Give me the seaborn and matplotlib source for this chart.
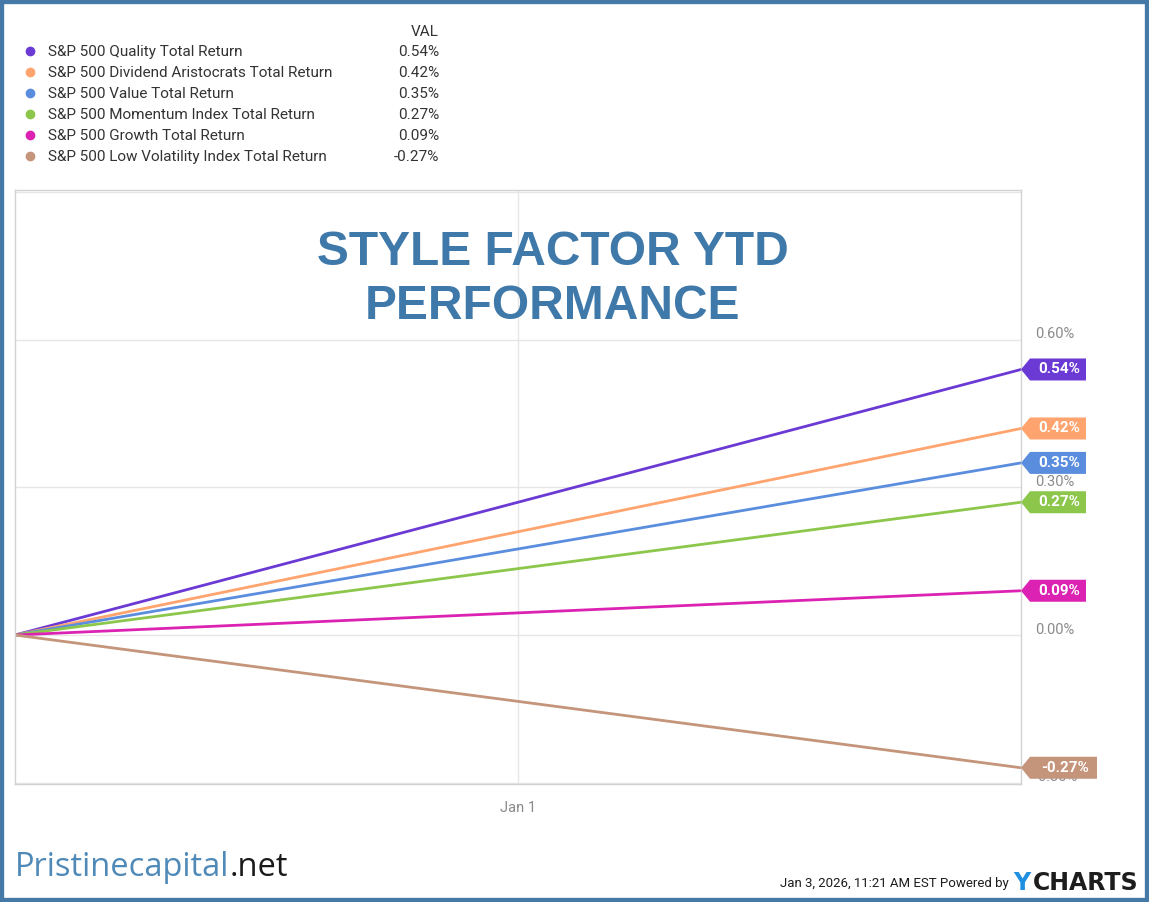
import pandas as pd
import matplotlib
matplotlib.use("Agg")
import matplotlib.pyplot as plt
import matplotlib.dates as mdates
import matplotlib.transforms as mtransforms
from matplotlib.patches import Polygon, Rectangle
from matplotlib.lines import Line2D
import seaborn as sns

# ------------------------------------------------------------
# Data
# ------------------------------------------------------------
series = [
    "S&P 500 Quality Total Return",
    "S&P 500 Dividend Aristocrats Total Return",
    "S&P 500 Value Total Return",
    "S&P 500 Momentum Index Total Return",
    "S&P 500 Growth Total Return",
    "S&P 500 Low Volatility Index Total Return",
]
values = [0.54, 0.42, 0.35, 0.27, 0.09, -0.27]
colors = ["#6B3AD4", "#FFA46E", "#5B8DDE", "#8CC64B", "#DC22B2", "#C4957A"]
dates = ["2025-12-31", "2026-01-02"]
x_tick_dates = ["2026-01-01"]
x_tick_labels = ["Jan 1"]
y_ticks = [-0.30, 0.00, 0.30, 0.60]
y_tick_labels = ["-0.30%", "0.00%", "0.30%", "0.60%"]

rows = []
for name, v in zip(series, values):
    rows.append({"date": dates[0], "series": name, "ret": 0.0})
    rows.append({"date": dates[1], "series": name, "ret": v})
df = pd.DataFrame(rows)
df["date"] = pd.to_datetime(df["date"])

# ------------------------------------------------------------
# Style
# ------------------------------------------------------------
sns.set_theme(style="white")
plt.rcParams["font.family"] = ["Roboto", "DejaVu Sans"]

W, H = 1149, 902
fig = plt.figure(figsize=(W / 100, H / 100), dpi=100)
fig.patch.set_facecolor("white")


def fx(x):
    return x / W


def fy(y):
    return 1 - y / H


ax = fig.add_axes([fx(15), 118 / H, 1006 / W, 594 / H])
sns.lineplot(data=df, x="date", y="ret", hue="series", hue_order=series,
             palette=colors, linewidth=2, legend=False, ax=ax)

ax.set_xlim(pd.Timestamp(dates[0]), pd.Timestamp(dates[1]))
ax.set_ylim(-0.303, 0.905)
ax.set_xticks([pd.Timestamp(d) for d in x_tick_dates])
ax.set_xticklabels(x_tick_labels)
ax.set_yticks(y_ticks + [0.90])
ax.set_yticklabels(y_tick_labels + [""])
ax.yaxis.tick_right()
ax.set_xlabel("")
ax.set_ylabel("")
ax.tick_params(axis="both", length=0, labelsize=10.5, labelcolor="#8a8a8a")
ax.tick_params(axis="y", pad=10)
ax.tick_params(axis="x", pad=12)
ax.grid(True, color="#e6e6e6", linewidth=1)
for sp in ax.spines.values():
    sp.set_color("#d2d2d2")
    sp.set_linewidth(1)

# y tick labels sit a bit above their gridline
shift = mtransforms.ScaledTranslation(0, 7 / 100, fig.dpi_scale_trans)
for lab in ax.get_yticklabels():
    lab.set_transform(lab.get_transform() + shift)

# end-of-line value tags
xend = mdates.date2num(pd.Timestamp(dates[1]))
for v, c in zip(values, colors):
    w = 76 if v < 0 else 65
    trans = mtransforms.IdentityTransform() + mtransforms.ScaledTranslation(xend, v, ax.transData)
    tag = Polygon([(0, 0), (9, 11), (w, 11), (w, -11), (9, -11)], closed=True,
                  facecolor=c, edgecolor="none", transform=trans, clip_on=False, zorder=6)
    ax.add_patch(tag)
    ax.annotate(f"{v:.2f}%", xy=(xend, v), xytext=((w + 9) / 2 + 1, 0),
                textcoords="offset pixels", ha="center", va="center",
                color="white", fontsize=11, fontweight="bold",
                annotation_clip=False, zorder=7)

# ------------------------------------------------------------
# Legend table at top
# ------------------------------------------------------------
fig.text(fx(439), fy(32), "VAL", ha="right", va="center", fontsize=11, color="#333333")
for i, (name, v, c) in enumerate(zip(series, values, colors)):
    y = 52 + 21 * i
    fig.add_artist(Line2D([fx(30)], [fy(y - 1)], marker="o", markersize=6,
                          color=c, linestyle="none", transform=fig.transFigure))
    fig.text(fx(48), fy(y), name, ha="left", va="center", fontsize=11, color="#333333")
    fig.text(fx(439), fy(y), f"{v:.2f}%", ha="right", va="center", fontsize=11, color="#333333")

# ------------------------------------------------------------
# Title
# ------------------------------------------------------------
title_color = "#3F79AA"
fig.text(fx(553), fy(265), "STYLE FACTOR YTD", ha="center", va="baseline",
         fontsize=34.5, fontweight="bold", color=title_color, family="Liberation Sans")
fig.text(fx(553), fy(319), "PERFORMANCE", ha="center", va="baseline",
         fontsize=34.5, fontweight="bold", color=title_color, family="Liberation Sans")

# ------------------------------------------------------------
# Footer
# ------------------------------------------------------------
t1 = fig.text(fx(15), fy(876), "Pristinecapital", ha="left", va="baseline",
              fontsize=23.5, color="#4E89B8", family="Open Sans")
ax.annotate(".net", xy=(1, 0), xycoords=t1, ha="left", va="bottom",
            fontsize=23.5, color="#1a1a1a", family="Open Sans", annotation_clip=False)

t_ch = fig.text(fx(1138), fy(883), "CHARTS", ha="right", va="center",
                fontsize=17, fontweight="bold", color="#1d1d1d", family="DejaVu Sans")
t_y = ax.annotate("Y", xy=(0, 0.5), xycoords=t_ch, xytext=(-2, 0), textcoords="offset pixels",
                  ha="right", va="center", fontsize=17, fontweight="bold",
                  color="#1E8FE1", family="DejaVu Sans", annotation_clip=False)
ax.annotate("Jan 3, 2026, 11:21 AM EST Powered by", xy=(0, 0.5), xycoords=t_y,
            xytext=(-4, 0), textcoords="offset pixels", ha="right", va="center",
            fontsize=9.5, color="#1d1d1d", annotation_clip=False)

# border
fig.add_artist(Rectangle((0, 0), 1, 1, transform=fig.transFigure, fill=False,
                         edgecolor="#4479A8", linewidth=6, clip_on=False))

fig.savefig("out.png", dpi=100)
